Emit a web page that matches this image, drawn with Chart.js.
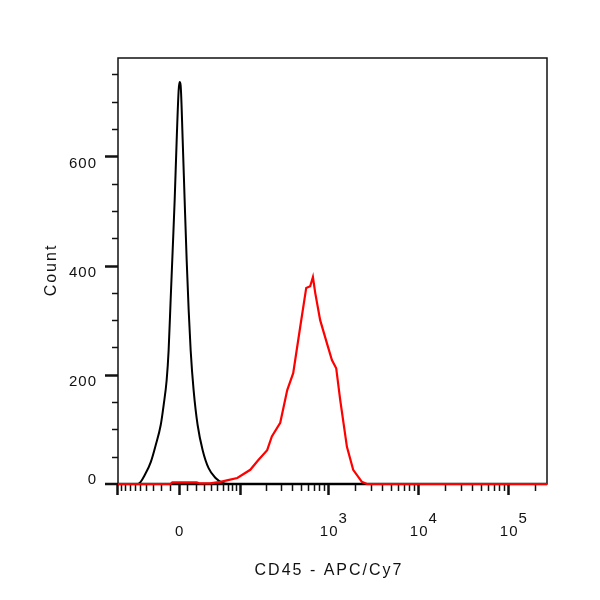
<!DOCTYPE html>
<html>
<head>
<meta charset="utf-8">
<script src="https://cdn.jsdelivr.net/npm/chart.js@4.4.1/dist/chart.umd.min.js"></script>
<style>
    html, body { margin: 0; padding: 0; background: #fff; }
    canvas { display: block; }
</style>
</head>
<body>
<canvas id="histChart" width="600" height="600"></canvas>
<script>
// CD45 stained sample (red) and isotype control (black), intensity vs count
const redIntensity = [-98, -9, -7, 21, 25, 39, 56, 71, 93, 133, 165, 208, 235, 292, 350, 408, 488, 570, 631, 677, 718, 815, 968, 1101, 1229, 1361, 1617, 1898, 2370, 2695, 270000];
const redCounts = [0, 0, 3, 3, 1, 1, 4, 7, 11, 26, 44, 62, 87, 112, 172, 203, 287, 359, 362, 379, 350, 300, 258, 227, 212, 154, 68, 26, 4, 0, 0];

const blackIntensity = [-98, -54, -41, -33.7, -27, -20.6, -17, -13.5, -11.2, -8.9, -6.6, -4.35, -2.1, 0.1, 1.2, 2.3, 4.6, 6.8, 9.1, 11.4, 13.7, 17.2, 22.1, 28.6, 36.9, 47.7, 60.2, 72, 270000];
const blackCounts = [0, 0, 20, 40, 71, 108, 145, 190, 245, 337, 428, 520, 630, 721, 736, 730, 630, 520, 410, 318, 245, 172, 108, 62, 29, 11, 2, 0, 0];

const yTickValues = [0, 200, 400, 600];
const yTickLabels = ['0', '200', '400', '600'];
const xTickValues = [0, 1000, 10000, 100000];
const xTickBases = ['0', '10', '10', '10'];
const xTickExps = ['', '3', '4', '5'];
const xAxisTitle = 'CD45 - APC/Cy7';
const yAxisTitle = 'Count';

const X_MIN = -98;
const X_MAX = 270000;
const Y_MAX = 780;
const BIEX_W = 43.6;
const FONT = '"Liberation Sans", Arial, sans-serif';

// biexponential-like axis (asinh) for the flow cytometry channel
class BiexScale extends Chart.LinearScale {
    determineDataLimits() {
        this.min = this.options.min;
        this.max = this.options.max;
    }
    buildTicks() {
        const ticks = [];
        for (let v = -100; v <= 100; v += 10) {
            ticks.push({ value: v, major: v % 100 === 0 });
        }
        for (let d = 100; d <= 100000; d *= 10) {
            for (let m = 2; m <= 9; m++) {
                ticks.push({ value: d * m, major: false });
            }
            ticks.push({ value: d * 10, major: true });
        }
        return ticks.filter(t => t.value <= this.max);
    }
    configure() {
        super.configure();
        this._a0 = Math.asinh(this.min / BIEX_W);
        this._a1 = Math.asinh(this.max / BIEX_W);
    }
    getPixelForValue(value) {
        if (value === null || value === undefined || isNaN(value)) return NaN;
        const a = Math.asinh(value / BIEX_W);
        return this.getPixelForDecimal((a - this._a0) / (this._a1 - this._a0));
    }
    getValueForPixel(pixel) {
        const d = this.getDecimalForPixel(pixel);
        return BIEX_W * Math.sinh(this._a0 + d * (this._a1 - this._a0));
    }
}
BiexScale.id = 'biex';
BiexScale.defaults = {};
Chart.register(BiexScale);

function toPoints(xs, ys) {
    return xs.map((x, i) => ({ x: x, y: ys[i] }));
}

function drawText(ctx, text, x, y, align, size, spacing) {
    ctx.font = `${size}px ${FONT}`;
    ctx.letterSpacing = spacing + 'px';
    ctx.textAlign = align;
    ctx.textBaseline = 'alphabetic';
    ctx.fillText(text, x, y);
}

const framePlugin = {
    id: 'frame',
    beforeDatasetsDraw(chart) {
        const { ctx, chartArea: a } = chart;
        ctx.save();
        ctx.strokeStyle = '#111';
        ctx.lineWidth = 1.5;
        ctx.strokeRect(a.left, a.top, a.right - a.left, a.bottom - a.top);
        ctx.lineWidth = 2.5;
        ctx.beginPath();
        ctx.moveTo(a.left - 13, a.bottom);
        ctx.lineTo(a.right, a.bottom);
        ctx.stroke();
        ctx.restore();
    },
    afterDraw(chart) {
        const { ctx, chartArea: a } = chart;
        const xs = chart.scales.x;
        const ys = chart.scales.y;
        ctx.save();
        ctx.strokeStyle = '#111';
        ctx.fillStyle = '#111';

        // y ticks, minor every 50
        for (let v = 50; v <= 750; v += 50) {
            const py = Math.round(ys.getPixelForValue(v)) + 0.5;
            const major = yTickValues.includes(v);
            ctx.lineWidth = major ? 2.5 : 1.5;
            ctx.beginPath();
            ctx.moveTo(a.left - (major ? 13 : 6), py);
            ctx.lineTo(a.left, py);
            ctx.stroke();
        }
        yTickValues.forEach((v, i) => {
            const py = ys.getPixelForValue(v);
            const base = v === 0 ? py : py + 11.5;
            drawText(ctx, yTickLabels[i], 97, base, 'right', 15, 1);
        });

        // x ticks
        xs.ticks.forEach(t => {
            const px = Math.round(xs.getPixelForValue(t.value)) + 0.5;
            if (px < a.left - 1 || px > a.right) return;
            ctx.lineWidth = t.major ? 2.5 : 1.5;
            ctx.beginPath();
            ctx.moveTo(px, a.bottom + 1);
            ctx.lineTo(px, a.bottom + (t.major ? 11 : 7));
            ctx.stroke();
        });
        xTickValues.forEach((v, i) => {
            const px = xs.getPixelForValue(v);
            drawText(ctx, xTickBases[i], px + 1, 536, 'center', 15, 1);
            if (xTickExps[i]) {
                ctx.font = `15px ${FONT}`;
                ctx.letterSpacing = '1px';
                const w = ctx.measureText(xTickBases[i]).width;
                drawText(ctx, xTickExps[i], px + w / 2 + 1, 523, 'left', 15, 1);
            }
        });

        // axis titles
        drawText(ctx, xAxisTitle, 329, 575, 'center', 16, 2);
        ctx.translate(56, 270);
        ctx.rotate(-Math.PI / 2);
        drawText(ctx, yAxisTitle, 0, 0, 'center', 16, 2);
        ctx.restore();
    }
};

new Chart(document.getElementById('histChart'), {
    type: 'line',
    data: {
        datasets: [{
            label: 'CD45',
            data: toPoints(redIntensity, redCounts),
            borderColor: '#ff0000',
            borderWidth: 2.2,
            pointRadius: 0,
            tension: 0,
            fill: false,
            clip: 4,
            order: 0
        }, {
            label: 'Isotype',
            data: toPoints(blackIntensity, blackCounts),
            borderColor: '#000000',
            borderWidth: 2,
            pointRadius: 0,
            cubicInterpolationMode: 'monotone',
            fill: false,
            clip: 4,
            order: 1
        }]
    },
    options: {
        responsive: false,
        animation: false,
        devicePixelRatio: 1,
        layout: { padding: { left: 118, top: 58, right: 53, bottom: 116 } },
        plugins: { legend: { display: false }, tooltip: { enabled: false } },
        scales: {
            x: { type: 'biex', min: X_MIN, max: X_MAX, display: false, ticks: { autoSkip: false } },
            y: { type: 'linear', min: 0, max: Y_MAX, display: false }
        }
    },
    plugins: [framePlugin]
});
</script>
</body>
</html>
